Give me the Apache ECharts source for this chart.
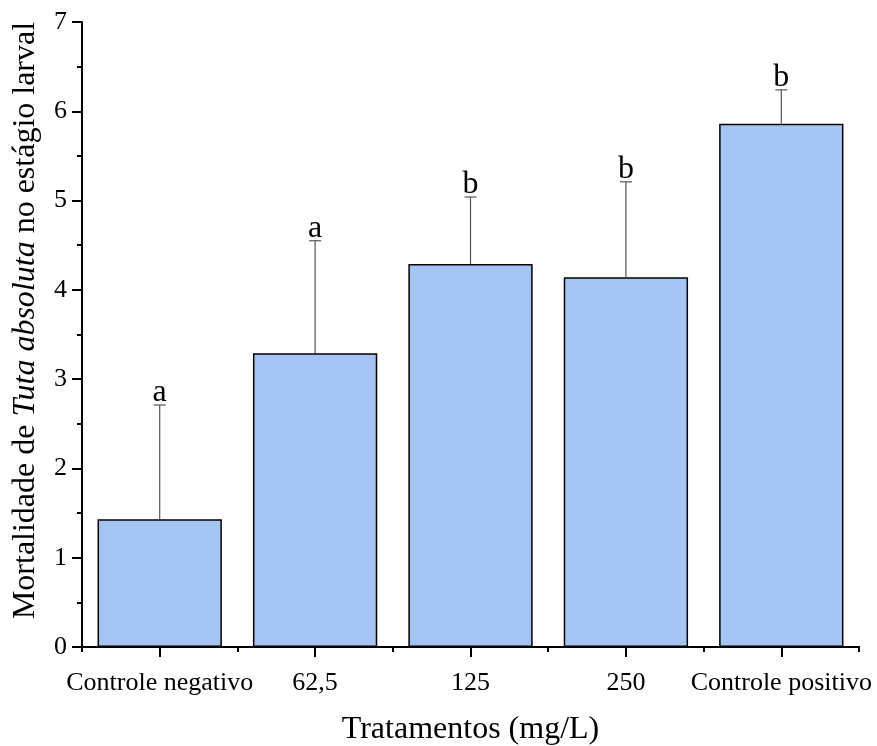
<!DOCTYPE html>
<html>
<head>
<meta charset="utf-8">
<script src="https://cdn.jsdelivr.net/npm/echarts@6/dist/echarts.min.js"></script>
<style>
  html, body { margin: 0; padding: 0; background: #fff; }
  #chart { width: 877px; height: 746px; }
</style>
</head>
<body>
<div id="chart"></div>
<script>
// treatments and mean larval mortality
const categories = ['Controle negativo', '62,5', '125', '250', 'Controle positivo']
const means = [1.43, 3.29, 4.29, 4.14, 5.86]
const upperErrors = [2.71, 4.55, 5.04, 5.21, 6.24]
const letters = ['a', 'a', 'b', 'b', 'b']

const serif = '"Liberation Serif", "DejaVu Serif", serif'

const chart = echarts.init(document.getElementById('chart'))

chart.setOption({
  animation: false,
  grid: {
    left: 82,
    right: 18,
    top: 22,
    bottom: 99,
    outerBoundsMode: 'none'
  },
  xAxis: [{
    type: 'category',
    data: categories,
    position: 'bottom',
    name: 'Tratamentos (mg/L)',
    nameLocation: 'middle',
    nameGap: 67,
    nameTextStyle: { fontFamily: serif, fontSize: 32, color: '#000' },
    axisLine: { lineStyle: { color: '#000', width: 2 } },
    axisTick: { show: true, alignWithLabel: true, length: 10, lineStyle: { color: '#000', width: 2 } },
    axisLabel: { fontFamily: serif, fontSize: 26, color: '#000', margin: 23, interval: 0 },
    splitLine: { show: false }
  }, {
    // short ticks between the categories
    type: 'category',
    data: categories,
    position: 'bottom',
    axisLine: { show: false },
    axisTick: { show: true, length: 5, lineStyle: { color: '#000', width: 2 } },
    axisLabel: { show: false },
    splitLine: { show: false }
  }],
  yAxis: {
    type: 'value',
    min: 0,
    max: 7,
    interval: 1,
    name: '{n|Mortalidade de }{i|Tuta absoluta}{n| no estágio larval}',
    nameLocation: 'middle',
    nameGap: 40,
    nameTextStyle: {
      padding: [0, 0, 0, 28],
      rich: {
        n: { fontFamily: serif, fontSize: 32, color: '#000' },
        i: { fontFamily: serif, fontSize: 32, color: '#000', fontStyle: 'italic' }
      }
    },
    axisLine: { show: true, lineStyle: { color: '#000', width: 2 } },
    axisTick: { show: true, length: 10, lineStyle: { color: '#000', width: 2 } },
    minorTick: { show: true, splitNumber: 2, length: 5, lineStyle: { color: '#000', width: 2 } },
    axisLabel: { fontFamily: serif, fontSize: 26, color: '#000', margin: 15 },
    splitLine: { show: false }
  },
  series: [{
    type: 'bar',
    data: means,
    barWidth: '80%',
    itemStyle: { color: '#a6c4f3', borderColor: '#000', borderWidth: 1.5 },
    z: 2
  }, {
    type: 'custom',
    z: 3,
    data: means.map((m, i) => [i, m, upperErrors[i]]),
    renderItem: function (params, api) {
      const i = api.value(0)
      const base = api.coord([i, api.value(1)])
      const top = api.coord([i, api.value(2)])
      const cap = 6
      return {
        type: 'group',
        children: [{
          type: 'line',
          shape: { x1: base[0], y1: base[1], x2: top[0], y2: top[1] },
          style: { stroke: '#555', lineWidth: 1.2 }
        }, {
          type: 'line',
          shape: { x1: top[0] - cap, y1: top[1], x2: top[0] + cap, y2: top[1] },
          style: { stroke: '#555', lineWidth: 1.2 }
        }, {
          type: 'text',
          x: top[0],
          y: top[1] + 4,
          style: {
            text: letters[params.dataIndex],
            fontFamily: serif,
            fontSize: 32,
            fill: '#000',
            align: 'center',
            verticalAlign: 'bottom'
          }
        }]
      }
    }
  }]
})
</script>
</body>
</html>
